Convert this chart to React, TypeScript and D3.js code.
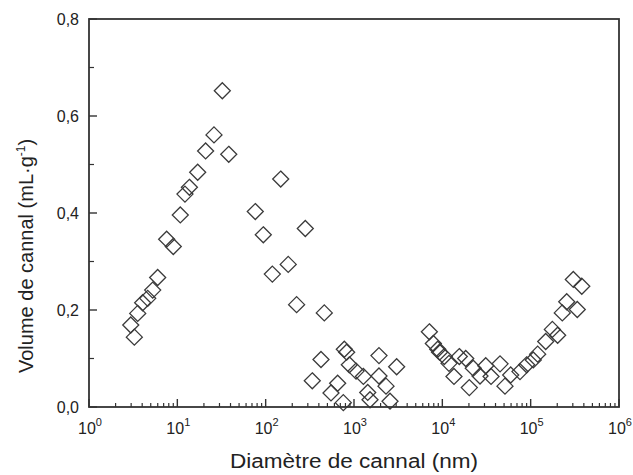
import React from "react";
import * as d3 from "d3";

const diameters: number[] = [
  2.97, 3.26, 3.56, 4.05, 4.62, 5.26, 5.99, 7.57, 9.0,
  10.8, 12.2, 13.7, 17.0, 20.9, 26.0, 32.3, 38.2,
  76.3, 94, 119, 148, 180, 224, 281, 337, 423, 461,
  549, 653, 757, 777, 826, 885, 1055, 1277, 1430, 1518, 1918, 1918, 2303, 2557, 3040,
  7130, 7910, 8870, 9300, 10520, 11900, 13550, 15560, 18400, 20200, 22400, 26700, 31000,
  35600, 45000, 51200, 59400, 75700, 90100, 107000, 120000, 148000, 176000, 202000,
  228000, 256000, 304000, 337000, 379000,
];
const volumes: number[] = [
  0.169, 0.144, 0.193, 0.215, 0.224, 0.241, 0.267, 0.346, 0.331,
  0.396, 0.439, 0.453, 0.484, 0.528, 0.561, 0.652, 0.521,
  0.403, 0.355, 0.274, 0.470, 0.294, 0.211, 0.368, 0.054, 0.098, 0.194,
  0.029, 0.049, 0.009, 0.119, 0.113, 0.087, 0.074, 0.063, 0.030, 0.015, 0.064, 0.106, 0.043, 0.012, 0.083,
  0.155, 0.131, 0.119, 0.113, 0.104, 0.090, 0.063, 0.104, 0.100, 0.040, 0.080, 0.064, 0.085,
  0.063, 0.089, 0.043, 0.066, 0.073, 0.087, 0.097, 0.109, 0.135, 0.160, 0.148,
  0.194, 0.217, 0.263, 0.201, 0.249,
];
const yTicks: number[] = [0, 0.2, 0.4, 0.6, 0.8];
const yMinor: number[] = [0.1, 0.3, 0.5, 0.7];
const xDecades: number[] = [0, 1, 2, 3, 4, 5, 6];

const W = 633, H = 475;
const L = 89, R = 619, T = 19, B = 407;
const FONT = "'Liberation Sans', Arial, sans-serif";
const INK = "#333";

export default function App() {
  const x = d3.scaleLog().domain([1, 1e6]).range([L, R]);
  const y = d3.scaleLinear().domain([0, 0.8]).range([B, T]);
  const fmt = (v: number) => d3.format(".1f")(v).replace(".", ",");

  const minorX: number[] = [];
  for (let e = 0; e < 6; e++) for (let m = 2; m <= 9; m++) minorX.push(m * Math.pow(10, e));

  const s = 8;
  const diamond = `M0,${-s}L${s},0L0,${s}L${-s},0Z`;

  return (
    <svg width={W} height={H} style={{ position: "absolute", left: 0, top: 0, background: "#fff" }}>
      <rect x={0} y={0} width={W} height={H} fill="#fff" />
      <g>
        {diameters.map((d, i) => (
          <path key={i} d={diamond} transform={`translate(${x(d)},${y(volumes[i])})`}
            fill="none" stroke="#3a3a3a" strokeWidth={1.3} />
        ))}
      </g>
      <rect x={L} y={T} width={R - L} height={B - T} fill="none" stroke={INK} strokeWidth={1.8} />
      {yTicks.map((t) => (
        <g key={t}>
          <line x1={L} x2={L + 8} y1={y(t)} y2={y(t)} stroke={INK} strokeWidth={1.4} />
          <text x={L - 10} y={y(t)} dy="0.36em" textAnchor="end" fontFamily={FONT} fontSize={16} fill="#222">{fmt(t)}</text>
        </g>
      ))}
      {yMinor.map((t) => (
        <line key={t} x1={L} x2={L + 5} y1={y(t)} y2={y(t)} stroke={INK} strokeWidth={1.2} />
      ))}
      {xDecades.map((e) => (
        <g key={e}>
          <line x1={x(Math.pow(10, e))} x2={x(Math.pow(10, e))} y1={B} y2={B - 8} stroke={INK} strokeWidth={1.4} />
          <text x={x(Math.pow(10, e)) + 1} y={B + 27} textAnchor="middle" fontFamily={FONT} fontSize={16} fill="#222">
            10<tspan dy={-8} fontSize={11}>{e}</tspan>
          </text>
        </g>
      ))}
      {minorX.map((v, i) => (
        <line key={i} x1={x(v)} x2={x(v)} y1={B} y2={B - 4} stroke={INK} strokeWidth={1.2} />
      ))}
      <text x={230} y={468} fontFamily={FONT} fontSize={20} fill="#222" textLength={248} lengthAdjust="spacingAndGlyphs">
        Diamètre de cannal (nm)
      </text>
      <text transform={`translate(33,373) rotate(-90)`} fontFamily={FONT} fontSize={20} fill="#222">
        Volume de cannal (mL·g<tspan dy={-8} fontSize={12}>-1</tspan><tspan dy={8}>)</tspan>
      </text>
    </svg>
  );
}
